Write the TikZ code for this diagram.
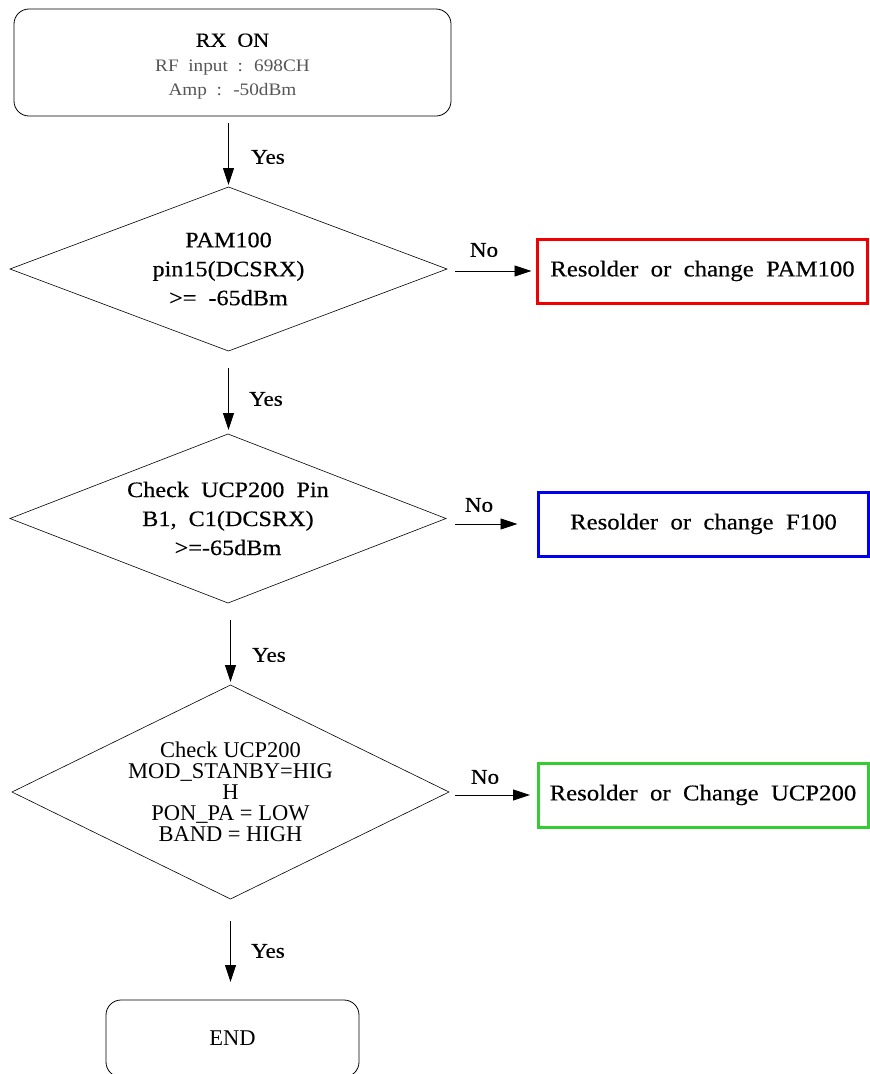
\documentclass[tikz,border=0pt]{standalone}
\usepackage{fontspec}
\setmainfont{Liberation Serif}[FakeStretch=1.1,WordSpace=2,FakeBold=0.4]
\newfontfamily\tnr{Liberation Serif}
\newfontfamily\thinwide{Liberation Serif}[FakeStretch=1.1,WordSpace=2]
\usetikzlibrary{shapes.geometric,arrows.meta}
\definecolor{txtgray}{HTML}{555555}
\definecolor{rbox}{HTML}{F00000}
\definecolor{bbox}{HTML}{0000F0}
\definecolor{gbox}{HTML}{33CC33}
\begin{document}
\begin{tikzpicture}[x=1pt,y=-1pt,
  every node/.style={inner sep=0pt, outer sep=0pt, align=center},
  startbox/.style={draw, rounded corners=15pt, line width=0.8pt},
  decbox/.style={draw, diamond, line width=0.6pt, font=\fontsize{22}{29}\selectfont},
  fixbox/.style={draw, line width=3pt, minimum width=330pt, minimum height=64pt, font=\fontsize{22.5}{26}\selectfont},
  arr/.style={-{Triangle[length=17pt,width=11pt]}, line width=0.8pt},
  lab/.style={font=\fontsize{21}{24}\selectfont}]
\useasboundingbox (0,0) rectangle (870,1074);

\node[startbox, minimum width=437pt, minimum height=107pt] (s) at (232.5,62.5) {};
\node[font=\fontsize{17.5}{24.5}\selectfont] (st) at (232.5,66.5)
  {{\fontsize{20}{24}\selectfont RX ON}\\
   {\thinwide\color{txtgray}RF input : 698CH}\\
   {\thinwide\color{txtgray}Amp : -50dBm}};

\node[decbox, aspect=2.66, minimum width=437pt, minimum height=164pt] (d1) at (228.5,269)
  {PAM100\\pin15(DCSRX)\\>= -65dBm};
\node[decbox, aspect=2.58, minimum width=436pt, minimum height=169pt] (d2) at (228,518.5)
  {Check UCP200 Pin\\B1, C1(DCSRX)\\>=-65dBm};
\node[decbox, aspect=2.04, minimum width=437pt, minimum height=214pt, font=\tnr\fontsize{22.5}{21}\selectfont] (d3) at (230.5,792)
  {Check UCP200\\MOD\_STANBY=HIG\\H\\PON\_PA = LOW\\BAND = HIGH};

\node[fixbox, draw=rbox] (r) at (702.5,271) {Resolder or change PAM100};
\node[fixbox, draw=bbox] (b) at (703.5,524) {Resolder or change F100};
\node[fixbox, draw=gbox] (g) at (703,795) {Resolder or Change UCP200};

\node[startbox, minimum width=253pt, minimum height=77pt, font=\tnr\fontsize{22.5}{24}\selectfont] (e) at (232.5,1038.5) {END};

% vertical Yes arrows
\draw[arr] ([yshift=-7pt]s.south -| d1.north) -- ([yshift=2pt]d1.north);
\draw[arr] ([yshift=-17pt]d1.south) -- ([yshift=4pt]d2.north -| d1.south);
\draw[arr] ([yshift=-17pt]d2.south -| d3.north) -- ([yshift=3pt]d3.north);
\draw[arr] ([yshift=-22pt]d3.south) -- ([yshift=18pt]e.north -| d3.south);

\node[lab] (y1) at (268,157) {Yes};
\node[lab] (y2) at (266,399) {Yes};
\node[lab] (y3) at (269,655) {Yes};
\node[lab] (y4) at (268,951) {Yes};

% horizontal No arrows
\draw[arr] ([xshift=8pt]d1.east |- r.west) -- ([xshift=-6pt]r.west);
\draw[arr] ([xshift=9pt]d2.east |- b.west) -- ([xshift=-21pt]b.west);
\draw[arr] ([xshift=6pt]d3.east |- g.west) -- ([xshift=-8pt]g.west);

\node[lab] (n1) at (484,250) {No};
\node[lab] (n2) at (479,505) {No};
\node[lab] (n3) at (485,777) {No};
\end{tikzpicture}
\end{document}
